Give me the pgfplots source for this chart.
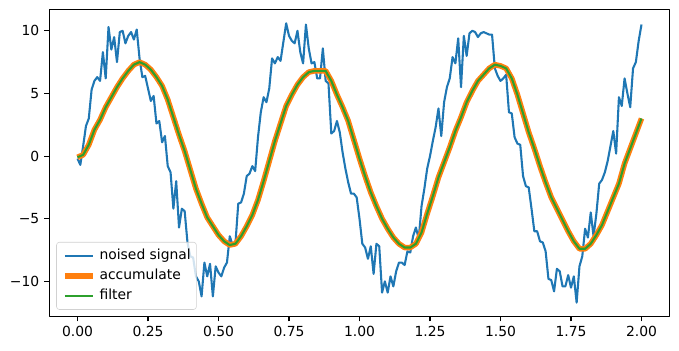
\documentclass[border=0pt]{standalone}
\usepackage{pgfplots}
\pgfplotsset{compat=1.18}
\usepackage{pgfplotstable}
\usepackage{fontspec}
\setmainfont{DejaVu Sans}
\definecolor{tabblue}{HTML}{1F77B4}
\definecolor{taborange}{HTML}{FF7F0E}
\definecolor{tabgreen}{HTML}{2CA02C}

\pgfplotstableread{
x y
0.00 -0.2
0.01 -0.7
0.02 0.8
0.03 2.4
0.04 3.0
0.05 5.3
0.06 6.0
0.07 6.3
0.08 6.0
0.09 8.3
0.10 6.2
0.11 10.3
0.12 8.5
0.13 9.5
0.14 7.5
0.15 9.9
0.16 10.0
0.17 9.0
0.18 9.6
0.19 9.9
0.20 9.3
0.21 10.1
0.22 7.8
0.23 6.3
0.24 6.4
0.25 5.4
0.26 4.4
0.27 4.8
0.28 2.6
0.29 2.8
0.30 1.1
0.31 1.6
0.32 -0.8
0.33 -1.3
0.34 -4.2
0.35 -2.0
0.36 -5.7
0.37 -4.2
0.38 -4.4
0.39 -6.9
0.40 -8.0
0.41 -8.1
0.42 -9.6
0.43 -10.0
0.44 -11.2
0.45 -8.5
0.46 -9.6
0.47 -8.6
0.48 -11.2
0.49 -8.8
0.50 -9.3
0.51 -9.6
0.52 -8.9
0.53 -8.5
0.54 -6.4
0.55 -7.1
0.56 -7.0
0.57 -3.8
0.58 -3.7
0.59 -3.0
0.60 -1.6
0.61 -1.4
0.62 -0.8
0.63 -1.2
0.64 1.5
0.65 3.5
0.66 4.7
0.67 4.3
0.68 5.4
0.69 7.8
0.70 7.4
0.71 7.9
0.72 7.6
0.73 9.1
0.74 10.6
0.75 9.6
0.76 9.2
0.77 9.0
0.78 10.0
0.79 8.3
0.80 7.4
0.81 10.5
0.82 8.6
0.83 7.4
0.84 7.5
0.85 6.2
0.86 6.2
0.87 8.6
0.88 6.0
0.89 5.8
0.90 1.8
0.91 2.0
0.92 2.8
0.93 1.9
0.94 0.3
0.95 -1.0
0.96 -2.1
0.97 -3.0
0.98 -3.0
0.99 -3.3
1.00 -5.0
1.01 -7.0
1.02 -7.3
1.03 -8.2
1.04 -7.2
1.05 -9.4
1.06 -7.0
1.07 -7.2
1.08 -10.9
1.09 -10.0
1.10 -10.9
1.11 -9.6
1.12 -10.4
1.13 -9.2
1.14 -8.5
1.15 -8.5
1.16 -8.7
1.17 -7.6
1.18 -7.7
1.19 -6.4
1.20 -5.7
1.21 -6.6
1.22 -4.0
1.23 -2.6
1.24 -1.0
1.25 0.0
1.26 1.2
1.27 2.3
1.28 3.8
1.29 1.6
1.30 4.3
1.31 5.5
1.32 6.2
1.33 7.9
1.34 7.4
1.35 9.4
1.36 5.5
1.37 9.6
1.38 8.0
1.39 9.8
1.40 10.0
1.41 9.9
1.42 9.5
1.43 9.8
1.44 9.9
1.45 9.8
1.46 9.7
1.47 9.7
1.48 7.0
1.49 6.4
1.50 6.0
1.51 6.2
1.52 6.5
1.53 3.5
1.54 3.4
1.55 1.5
1.56 1.0
1.57 0.9
1.58 -1.6
1.59 -2.4
1.60 -2.5
1.61 -4.2
1.62 -6.0
1.63 -6.0
1.64 -6.8
1.65 -6.9
1.66 -7.6
1.67 -9.8
1.68 -9.9
1.69 -10.8
1.70 -9.0
1.71 -9.2
1.72 -10.4
1.73 -10.4
1.74 -9.5
1.75 -10.5
1.76 -9.6
1.77 -11.7
1.78 -8.8
1.79 -8.0
1.80 -5.8
1.81 -6.5
1.82 -4.5
1.83 -6.4
1.84 -4.6
1.85 -2.2
1.86 -1.9
1.87 -1.3
1.88 -0.4
1.89 0.8
1.90 2.0
1.91 0.2
1.92 4.7
1.93 4.0
1.94 6.2
1.95 5.0
1.96 3.9
1.97 7.0
1.98 7.5
1.99 9.2
2.00 10.5
}\noisedata

\pgfplotstableread{
x y
0.00 -0.1
0.02 0.1
0.04 0.9
0.06 2.1
0.08 2.9
0.10 3.9
0.12 4.7
0.14 5.5
0.16 6.2
0.18 6.8
0.20 7.3
0.22 7.5
0.24 7.3
0.26 6.9
0.28 6.3
0.30 5.6
0.32 4.5
0.34 3.1
0.36 1.7
0.38 0.4
0.40 -1.1
0.42 -2.6
0.44 -3.8
0.46 -4.9
0.48 -5.6
0.50 -6.3
0.52 -6.8
0.54 -7.1
0.56 -7.0
0.58 -6.4
0.60 -5.6
0.62 -4.7
0.64 -3.5
0.66 -2.0
0.68 -0.4
0.70 1.2
0.72 2.6
0.74 4.0
0.76 4.9
0.78 5.7
0.80 6.3
0.82 6.7
0.84 6.8
0.86 6.8
0.88 6.8
0.90 6.0
0.92 4.9
0.94 3.9
0.96 2.8
0.98 1.3
1.00 -0.2
1.02 -1.6
1.04 -2.9
1.06 -4.0
1.08 -5.0
1.10 -5.8
1.12 -6.5
1.14 -7.0
1.16 -7.3
1.18 -7.3
1.20 -7.0
1.22 -6.1
1.24 -4.6
1.26 -3.2
1.28 -1.7
1.30 -0.5
1.32 0.7
1.34 2.0
1.36 3.1
1.38 4.3
1.40 5.2
1.42 6.0
1.44 6.5
1.46 7.0
1.48 7.3
1.50 7.2
1.52 7.0
1.54 6.2
1.56 4.9
1.58 3.4
1.60 1.9
1.62 0.6
1.64 -0.8
1.66 -2.1
1.68 -3.3
1.70 -4.2
1.72 -5.1
1.74 -6.0
1.76 -6.8
1.78 -7.4
1.80 -7.4
1.82 -7.0
1.84 -6.3
1.86 -5.5
1.88 -4.4
1.90 -3.3
1.92 -2.2
1.94 -0.6
1.96 0.6
1.98 1.8
2.00 3.0
}\filterdata

\begin{document}
\begin{tikzpicture}
\useasboundingbox (-35.5pt,-24.8pt) rectangle (453.4pt,227.84pt);
\begin{axis}[
  at={(0,0)}, anchor=south west,
  scale only axis, width=446.7pt, height=221.0pt,
  xmin=-0.1, xmax=2.1, ymin=-12.8, ymax=11.7,
  xtick={0,0.25,0.5,0.75,1,1.25,1.5,1.75,2},
  xticklabels={0.00,0.25,0.50,0.75,1.00,1.25,1.50,1.75,2.00},
  ytick={-10,-5,0,5,10},
  yticklabels={−10,−5,0,5,10},
  xtick pos=bottom, ytick pos=left,
  tick align=outside, major tick length=3.5pt,
  every tick/.style={black, line width=0.8pt},
  axis line style={line width=0.8pt},
  tick label style={font=\fontsize{10}{12}\selectfont},
  xticklabel style={inner sep=0pt, yshift=-3.5pt},
  yticklabel style={inner sep=0pt, xshift=-3.5pt},
  legend style={at={(0,0)}, anchor=south west, xshift=5pt, yshift=4.8pt,
    draw=black!18, rounded corners=2pt, fill=white, fill opacity=0.8, text opacity=1,
    font=\fontsize{10}{12}\selectfont, inner xsep=4pt, inner ysep=2.6pt,
    row sep=0pt, cells={anchor=west},
    nodes={inner xsep=0pt, inner ysep=2.3pt, text height=7.6pt, text depth=2.2pt}},
  legend image code/.code={\draw[#1] (0pt,0pt) -- (20pt,0pt); \path (23pt,0pt);},
  line join=round,
]
\addplot[color=tabblue, line width=1.5pt] table[x=x,y=y] {\noisedata};
\addlegendentry{noised signal}
\addplot[color=taborange, line width=4pt] table[x=x,y=y] {\filterdata};
\addlegendentry{accumulate}
\addplot[color=tabgreen, line width=1.5pt] table[x=x,y=y] {\filterdata};
\addlegendentry{filter}
\end{axis}
\end{tikzpicture}
\end{document}
